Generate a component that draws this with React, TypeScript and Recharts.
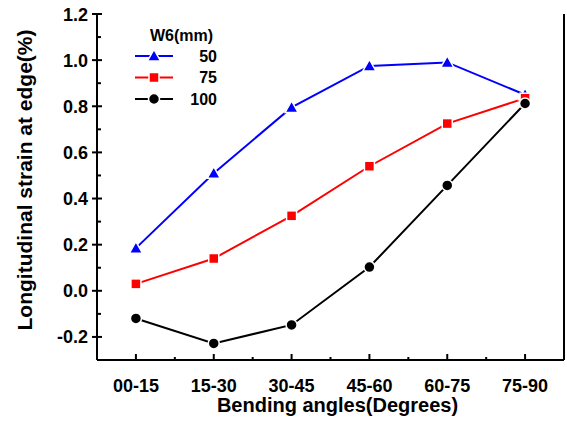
import { LineChart, Line, XAxis, YAxis, Legend } from 'recharts';

const categories = ['00-15', '15-30', '30-45', '45-60', '60-75', '75-90'];
const w50 = [0.185, 0.51, 0.795, 0.975, 0.99, 0.85];
const w75 = [0.03, 0.14, 0.325, 0.54, 0.725, 0.835];
const w100 = [-0.12, -0.228, -0.148, 0.103, 0.457, 0.812];

const majorTicks = [-0.2, 0, 0.2, 0.4, 0.6, 0.8, 1.0, 1.2];
const minorTicks = [-0.1, 0.1, 0.3, 0.5, 0.7, 0.9, 1.1];

const series = [
    { key: 'w50', name: '50', color: '#0000ff', shape: 'triangle' },
    { key: 'w75', name: '75', color: '#ff0000', shape: 'square' },
    { key: 'w100', name: '100', color: '#000000', shape: 'circle' },
];

const data = categories.map((angle, i) => ({ angle, w50: w50[i], w75: w75[i], w100: w100[i] }));
const allTicks = [...majorTicks, ...minorTicks].sort((a, b) => a - b);

const FONT = "'Liberation Sans', Arial, Helvetica, sans-serif";

function Marker({ cx, cy, shape, color }: { cx: number; cy: number; shape: string; color: string }) {
    if (shape === 'triangle') {
        return (
            <polygon
                points={`${cx},${cy - 6.5} ${cx - 6.5},${cy + 5} ${cx + 6.5},${cy + 5}`}
                fill={color}
                stroke="#fff"
                strokeWidth={1.5}
            />
        );
    }
    if (shape === 'square') {
        return <rect x={cx - 5} y={cy - 5} width={10} height={10} fill={color} stroke="#fff" strokeWidth={1.5} />;
    }
    return <circle cx={cx} cy={cy} r={5.5} fill={color} stroke="#fff" strokeWidth={1.5} />;
}

function YTick(props: any) {
    const { x, y, payload } = props;
    const v = payload.value;
    const isMajor = majorTicks.some((t) => Math.abs(t - v) < 1e-6);
    if (!isMajor) {
        return <line x1={x} x2={x + 4} y1={y} y2={y} stroke="#000" strokeWidth={2} />;
    }
    return (
        <g>
            <line x1={x - 5} x2={x + 5} y1={y} y2={y} stroke="#000" strokeWidth={2} />
            <text x={x - 9} y={y + 6.5} textAnchor="end" fontSize={18} fontWeight="bold" fontFamily={FONT} fill="#000">
                {v.toFixed(1)}
            </text>
        </g>
    );
}

function BottomTick(props: any) {
    const { x, y, payload, index } = props;
    const half = payload.offset ?? 0;
    return (
        <g>
            <line x1={x} x2={x} y1={y} y2={y - 6} stroke="#000" strokeWidth={2} />
            {index < categories.length - 1 && (
                <line x1={x + half} x2={x + half} y1={y} y2={y - 3} stroke="#000" strokeWidth={2} />
            )}
            <text x={x} y={y + 31.5} textAnchor="middle" fontSize={18} fontWeight="bold" fontFamily={FONT} fill="#000">
                {payload.value}
            </text>
        </g>
    );
}

function TopTick(props: any) {
    const { x, y, payload, index } = props;
    const half = payload.offset ?? 0;
    return (
        <g>
            <line x1={x} x2={x} y1={y} y2={y + 5} stroke="#333" strokeWidth={1.5} />
            {index < categories.length - 1 && (
                <line x1={x + half} x2={x + half} y1={y} y2={y + 3} stroke="#333" strokeWidth={1.5} />
            )}
        </g>
    );
}

function XTitle(props: any) {
    const vb = props.viewBox || { x: 97, y: 360, width: 467, height: 63 };
    return (
        <text x={vb.x + vb.width / 2 + 7} y={vb.y + 52} textAnchor="middle" fontSize={20} fontWeight="bold" fontFamily={FONT} fill="#000">
            Bending angles(Degrees)
        </text>
    );
}

function YTitle(props: any) {
    const vb = props.viewBox || { x: 0, y: 14, width: 97, height: 346 };
    const cy = vb.y + vb.height / 2 - 7;
    return (
        <text
            x={0}
            y={0}
            transform={`translate(${vb.x + 32}, ${cy}) rotate(-90)`}
            textAnchor="middle"
            fontSize={21}
            fontWeight="bold"
            fontFamily={FONT}
            fill="#000"
        >
            Longitudinal strain at edge(%)
        </text>
    );
}

function LegendBox() {
    return (
        <svg width={110} height={90} style={{ display: 'block' }}>
            <text x={20} y={18.5} fontSize={16} fontWeight="bold" fontFamily={FONT} fill="#000">
                W6(mm)
            </text>
            {series.map((s, i) => {
                const cy = 34 + i * 21.5;
                return (
                    <g key={s.key}>
                        <line x1={5} x2={43} y1={cy} y2={cy} stroke={s.color} strokeWidth={2} />
                        <Marker cx={24} cy={cy} shape={s.shape} color={s.color} />
                        <text x={87} y={cy + 5.8} textAnchor="end" fontSize={16} fontWeight="bold" fontFamily={FONT} fill="#000">
                            {s.name}
                        </text>
                    </g>
                );
            })}
        </svg>
    );
}

export default function App() {
    return (
        <div style={{ position: 'absolute', left: 0, top: 0, width: 567, height: 423, background: '#fff' }}>
            <LineChart width={567} height={423} data={data} margin={{ top: 14, right: 0, bottom: 0, left: 0 }}>
                <XAxis
                    dataKey="angle"
                    scale="band"
                    height={63}
                    interval={0}
                    tickSize={0}
                    tickMargin={0}
                    tickLine={false}
                    axisLine={{ stroke: '#000', strokeWidth: 2 }}
                    tick={<BottomTick />}
                    label={(p: any) => <XTitle {...p} />}
                />
                <XAxis
                    xAxisId="top"
                    orientation="top"
                    dataKey="angle"
                    scale="band"
                    height={0}
                    interval={0}
                    tickSize={0}
                    tickMargin={0}
                    tickLine={false}
                    axisLine={{ stroke: '#222', strokeWidth: 2 }}
                    tick={<TopTick />}
                />
                <YAxis
                    type="number"
                    width={97}
                    domain={[-0.3, 1.2]}
                    ticks={allTicks}
                    interval={0}
                    tickSize={0}
                    tickMargin={0}
                    tickLine={false}
                    axisLine={{ stroke: '#000', strokeWidth: 2 }}
                    tick={<YTick />}
                    label={(p: any) => <YTitle {...p} />}
                />
                <YAxis
                    yAxisId="right"
                    orientation="right"
                    type="number"
                    width={3}
                    domain={[-0.3, 1.2]}
                    tick={false}
                    tickLine={false}
                    axisLine={{ stroke: '#000', strokeWidth: 2 }}
                />
                {series.map((s) => (
                    <Line
                        key={s.key}
                        dataKey={s.key}
                        name={s.name}
                        stroke={s.color}
                        strokeWidth={2}
                        isAnimationActive={false}
                        dot={(p: any) => (
                            <Marker key={`${s.key}-${p.index}`} cx={p.cx} cy={p.cy} shape={s.shape} color={s.color} />
                        )}
                        activeDot={false}
                    />
                ))}
                <Legend
                    layout="vertical"
                    align="center"
                    verticalAlign="middle"
                    content={() => <LegendBox />}
                    wrapperStyle={{ left: 130, top: 22, width: 110, height: 90 }}
                />
            </LineChart>
        </div>
    );
}
